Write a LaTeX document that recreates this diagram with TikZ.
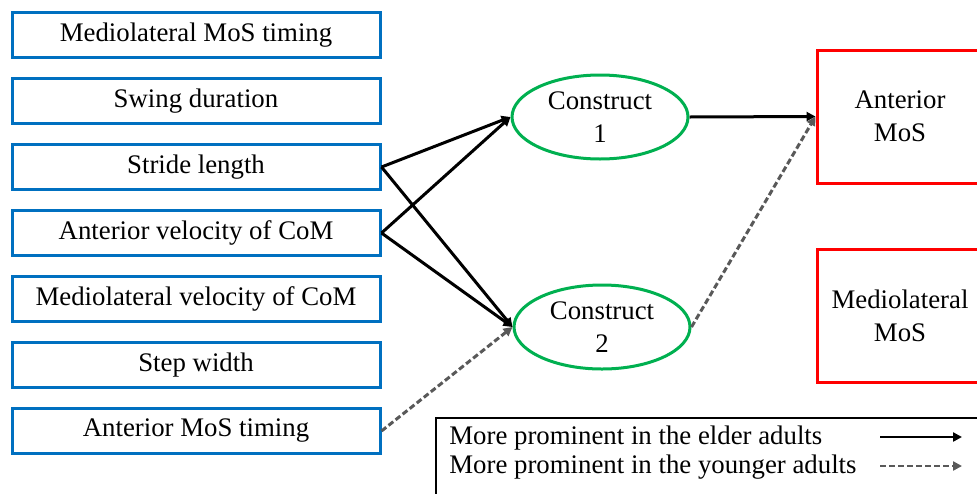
\documentclass[tikz,border=0pt]{standalone}
\usepackage{fontspec}
\setmainfont{Liberation Serif}
\usetikzlibrary{arrows.meta,shapes.geometric}
\definecolor{boxblue}{RGB}{0,112,192}
\definecolor{ovalgreen}{RGB}{0,176,80}
\definecolor{outred}{RGB}{255,0,0}
\definecolor{dashgray}{RGB}{89,89,89}

\begin{document}
\begin{tikzpicture}[x=0.5pt,y=-0.5pt,
    font=\fontsize{13.4}{16.5}\selectfont,
    predictor/.style={draw=boxblue,line width=1.5pt,minimum width=184pt,minimum height=22.5pt,inner sep=0pt},
    construct/.style={ellipse,draw=ovalgreen,line width=1.5pt,minimum width=88pt,minimum height=42pt,inner sep=0pt,align=center},
    outcome/.style={draw=outred,line width=1.5pt,minimum width=83pt,minimum height=66.5pt,inner sep=0pt,align=center},
    elder/.style={line width=1.5pt,-{Triangle[length=4.5pt,width=4.5pt]}},
    younger/.style={dashgray,line width=1.5pt,dash pattern=on 3pt off 1.5pt,-{Triangle[length=4.5pt,width=4.5pt]}}]
    \useasboundingbox (0,0) rectangle (977,493);
    \clip (0,0) rectangle (977,493);

    % Gait variables (left)
    \node[predictor] (mltiming) at (196,35) {Mediolateral MoS timing};
    \node[predictor] (swing) at (196,101) {Swing duration};
    \node[predictor] (stride) at (196,167) {Stride length};
    \node[predictor] (apvel) at (196,233) {Anterior velocity of CoM};
    \node[predictor] (mlvel) at (196,299) {Mediolateral velocity of CoM};
    \node[predictor] (stepw) at (196,365) {Step width};
    \node[predictor] (aptiming) at (196,431) {Anterior MoS timing};

    % Constructs (middle)
    \node[construct] (c1) at (600,117) {Construct\\1};
    \node[construct] (c2) at (602,327) {Construct\\2};

    % Outcomes (right)
    \node[outcome] (apmos) at (900,116.5) {Anterior\\MoS};
    \node[outcome] (mlmos) at (900,316) {Mediolateral\\MoS};

    % Paths
    \draw[elder] (stride.east) -- (c1.west);
    \draw[elder] (stride.east) -- (c2.west);
    \draw[elder] (apvel.east) -- (c1.west);
    \draw[elder] (apvel.east) -- (c2.west);
    \draw[younger] (aptiming.east) -- (c2.west);
    \draw[elder] (c1.east) -- (apmos.west);
    \draw[younger] (c2.east) -- (apmos.west);

    % Legend
    \draw[line width=0.6pt] (436,418) rectangle (990,500);
    \node[anchor=west,inner sep=0pt] (lgelder) at (449,438) {More prominent in the elder adults};
    \node[anchor=west,inner sep=0pt] (lgyounger) at (449,467) {More prominent in the younger adults};
    \coordinate (e1) at (880,437);
    \coordinate (e2) at (962,437);
    \coordinate (y1) at (880,466);
    \coordinate (y2) at (962,466);
    \draw[elder,line width=1.2pt] (e1) -- (e2);
    \draw[younger,line width=1.2pt] (y1) -- (y2);
\end{tikzpicture}
\end{document}
